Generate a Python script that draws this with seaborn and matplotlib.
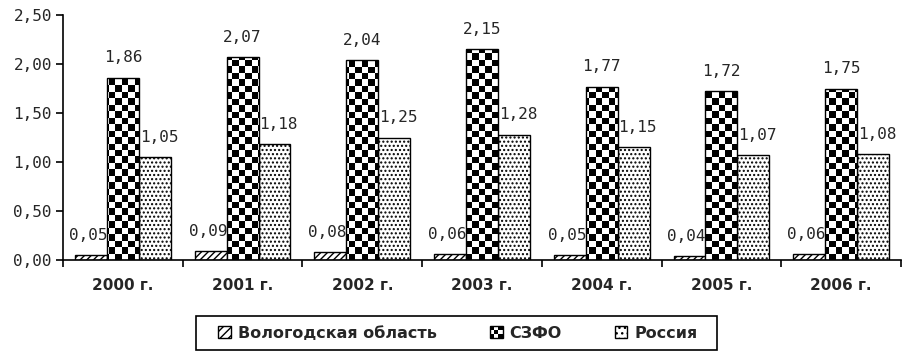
import numpy as np
import pandas as pd
import seaborn as sns
import matplotlib
matplotlib.use("Agg")
import matplotlib.pyplot as plt
from matplotlib.patches import Rectangle
from matplotlib.legend_handler import HandlerBase
from matplotlib.ticker import FixedLocator

years = ["2000 г.", "2001 г.", "2002 г.", "2003 г.", "2004 г.", "2005 г.", "2006 г."]
vologda = [0.05, 0.09, 0.08, 0.06, 0.05, 0.04, 0.06]
szfo = [1.86, 2.07, 2.04, 2.15, 1.77, 1.72, 1.75]
russia = [1.05, 1.18, 1.25, 1.28, 1.15, 1.07, 1.08]
series_names = ["Вологодская область", "СЗФО", "Россия"]
y_ticks = [0.0, 0.5, 1.0, 1.5, 2.0, 2.5]

df = pd.DataFrame({
    "year": years * 3,
    "value": vologda + szfo + russia,
    "region": [series_names[0]] * 7 + [series_names[1]] * 7 + [series_names[2]] * 7,
})

sns.set_theme(style="white")
plt.rcParams["font.family"] = ["DejaVu Sans"]
plt.rcParams["hatch.linewidth"] = 1.0

TEXT = "#262626"
MONO = "DejaVu Sans Mono"
W, H = 907, 353

fig = plt.figure(figsize=(W / 100, H / 100), dpi=100)
ax = fig.add_axes([63 / W, 1 - 260 / H, 838 / W, 245 / H])

sns.barplot(data=df, x="year", y="value", hue="region", order=years,
            hue_order=series_names, palette=["white"] * 3, edgecolor="black",
            linewidth=1.0, width=0.8, ax=ax, legend=False, saturation=1)

ax.set_xlim(-0.5, len(years) - 0.5)
ax.set_ylim(0, 2.5)

hatches = ["/////", None, "...."]
for cont, h in zip(ax.containers, hatches):
    for bar in cont:
        if h:
            bar.set_hatch(h)

# checkerboard fill for the СЗФО bars
cell_px = 6.5
nx = int(838 / cell_px) + 1
ny = int(245 / cell_px) + 1
checker = (np.add.outer(np.arange(ny), np.arange(nx)) % 2).astype(float)
x0, x1 = ax.get_xlim()
for bar in ax.containers[1]:
    im = ax.imshow(checker, cmap="gray", vmin=0, vmax=1, extent=[x0, x1, 0, 2.5],
                   origin="lower", interpolation="nearest", aspect="auto", zorder=1.5)
    im.set_clip_path(bar)
    bar.set_zorder(2)
    bar.set_facecolor("none")
ax.set_xlim(x0, x1)
ax.set_ylim(0, 2.5)

# value labels, nudged sideways so they sit clear of the neighbouring bars
label_shift = [-2.0, 0.0, 3.0]
for cont, vals, dx in zip(ax.containers, [vologda, szfo, russia], label_shift):
    anns = ax.bar_label(cont, labels=[f"{v:.2f}".replace(".", ",") for v in vals],
                        padding=9, fontsize=11.5, color=TEXT, family=MONO)
    for a in anns:
        a.xyann = (dx, a.xyann[1])

# axes styling
for s in ["top", "right"]:
    ax.spines[s].set_visible(False)
for s in ["left", "bottom"]:
    ax.spines[s].set_color("black")
    ax.spines[s].set_linewidth(1.2)

ax.set_yticks(y_ticks)
ax.set_yticklabels([f"{t:.2f}".replace(".", ",") for t in y_ticks], fontsize=11.5,
                   color=TEXT, family=MONO)
ax.tick_params(axis="y", direction="out", length=5, width=1.2, color="black", left=True, pad=3)
ax.tick_params(axis="x", which="major", length=0, pad=13)
for lab in ax.get_xticklabels():
    lab.set_fontsize(11)
    lab.set_fontweight("bold")
    lab.set_color(TEXT)
ax.xaxis.set_minor_locator(FixedLocator(np.arange(-0.5, len(years), 1.0)))
ax.tick_params(axis="x", which="minor", direction="out", length=5, width=1.2, color="black", bottom=True)
ax.set_xlabel("")
ax.set_ylabel("")


class CheckerHandler(HandlerBase):
    def create_artists(self, legend, orig_handle, xdescent, ydescent, width, height, fontsize, trans):
        arts = [Rectangle((-xdescent, -ydescent), width, height, facecolor="white",
                          edgecolor="black", lw=1, transform=trans)]
        n = 3
        cw, ch = width / n, height / n
        for i in range(n):
            for j in range(n):
                if (i + j) % 2 == 0:
                    arts.append(Rectangle((-xdescent + i * cw, -ydescent + j * ch), cw, ch,
                                          facecolor="black", edgecolor="none", transform=trans))
        return arts


handles = [Rectangle((0, 0), 1, 1, facecolor="white", edgecolor="black", hatch="////"),
           Rectangle((0, 0), 1, 1, facecolor="white", edgecolor="black"),
           Rectangle((0, 0), 1, 1, facecolor="white", edgecolor="black", hatch="...")]
leg = fig.legend(handles, series_names, loc="center", bbox_to_anchor=(458 / W, 1 - 333 / H),
                 ncol=3, frameon=False,
                 prop={"size": 11.5, "weight": "bold"},
                 handlelength=0.8, handleheight=0.8, handletextpad=0.45, columnspacing=3.3,
                 borderpad=0.3, handler_map={handles[1]: CheckerHandler()})
for t in leg.get_texts():
    t.set_color(TEXT)

# legend frame
fig.patches.append(Rectangle((196 / W, 1 - 350 / H), 521 / W, 34 / H, transform=fig.transFigure,
                             facecolor="none", edgecolor="black", linewidth=1.2))

fig.savefig("out.png", dpi=100, facecolor="white")
